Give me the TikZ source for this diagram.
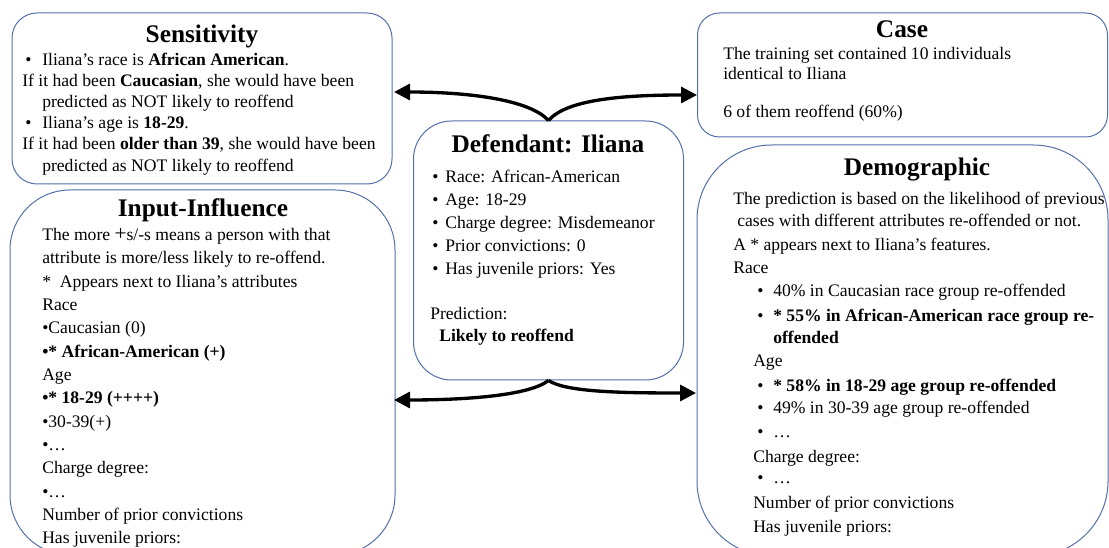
\documentclass[tikz,border=0pt]{standalone}
\usepackage{fontspec}
\setmainfont{Liberation Serif}
\usetikzlibrary{arrows.meta}
\definecolor{boxblue}{RGB}{84,112,170}
\begin{document}
\begin{tikzpicture}[x=0.75pt,y=-0.75pt,
  box/.style={draw=boxblue, line width=0.75pt, fill=white, inner sep=0pt, minimum width=#1},
  tx/.style={anchor=base west, inner sep=0pt, font=\fontsize{13.2}{15}\selectfont},
  ttl/.style={anchor=base, inner sep=0pt, font=\fontsize{19}{22}\selectfont\bfseries},
  conn/.style={draw=black, line width=2.5pt, -{Triangle[length=12pt,width=12pt]}}]
\useasboundingbox (0,0) rectangle (1109,548);
\clip (0,0) rectangle (1109,548);
% boxes
\node[box=380*0.75pt, minimum height=171*0.75pt, rounded corners=18.75pt] (sens) at (202,98.5) {};
\node[box=385*0.75pt, minimum height=365*0.75pt, rounded corners=45pt] (inpt) at (202.5,372.5) {};
\node[box=270*0.75pt, minimum height=259*0.75pt, rounded corners=28.5pt] (def) at (548.5,250.5) {};
\node[box=410*0.75pt, minimum height=124*0.75pt, rounded corners=16.5pt] (case) at (902.5,75) {};
\node[box=411*0.75pt, minimum height=411*0.75pt, rounded corners=56pt] (demo) at (902.5,350.5) {};
% Sensitivity
\node[ttl] (sensT) at (202,43) {Sensitivity};
\node[tx] (sb1) at (25,66) {•};
\node[tx] (s1) at (42,66) {Iliana’s race is \textbf{African American}.};
\node[tx] (s2) at (22,87) {If it had been \textbf{Caucasian}, she would have been};
\node[tx] (s3) at (42,108) {predicted as NOT likely to reoffend};
\node[tx] (sb4) at (25,129) {•};
\node[tx] (s4) at (42,129) {Iliana’s age is \textbf{18-29}.};
\node[tx] (s5) at (22,150) {If it had been \textbf{older than 39}, she would have been};
\node[tx] (s6) at (42,172) {predicted as NOT likely to reoffend};
% Input-Influence
\node[ttl] (inT) at (203,217) {Input-Influence};
\node[tx] (i1) at (42,240.7) {The more {\fontsize{16}{15}\selectfont +}s/-s means a person with that};
\node[tx] (i2) at (42,264.0) {attribute is more/less likely to re-offend.};
\node[tx] (i3) at (42,287.3) {*\ \ Appears next to Iliana’s attributes};
\node[tx] (i4) at (42,310.6) {Race};
\node[tx] (i5) at (42,333.9) {•Caucasian (0)};
\node[tx] (i6) at (42,357.2) {\textbf{•* African-American (+)}};
\node[tx] (i7) at (42,380.5) {Age};
\node[tx] (i8) at (42,403.8) {\textbf{•* 18-29 (++++)}};
\node[tx] (i9) at (42,427.1) {•30-39(+)};
\node[tx] (i10) at (42,450.4) {•…};
\node[tx] (i11) at (42,473.7) {Charge degree:};
\node[tx] (i12) at (42,497.0) {•…};
\node[tx] (i13) at (42,520.3) {Number of prior convictions};
\node[tx] (i14) at (42,543.6) {Has juvenile priors:};
% Defendant
\node[ttl] (defT) at (548,153) {Defendant: Iliana};
\node[tx] (db1) at (432,183) {•};
\node[tx] (d1) at (445,183) {Race: African-American};
\node[tx] (db2) at (432,206) {•};
\node[tx] (d2) at (445,206) {Age: 18-29};
\node[tx] (db3) at (432,229) {•};
\node[tx] (d3) at (445,229) {Charge degree: Misdemeanor};
\node[tx] (db4) at (432,252) {•};
\node[tx] (d4) at (445,252) {Prior convictions: 0};
\node[tx] (db5) at (432,275) {•};
\node[tx] (d5) at (445,275) {Has juvenile priors: Yes};
\node[tx] (d6) at (430,320) {Prediction:};
\node[tx] (d7) at (439,342) {\textbf{Likely to reoffend}};
% Case
\node[ttl] (caseT) at (902,38) {Case};
\node[tx] (c1) at (723,60) {The training set contained 10 individuals};
\node[tx] (c2) at (723,80) {identical to Iliana};
\node[tx] (c3) at (723,118) {6 of them reoffend (60\%)};
% Demographic
\node[ttl] (demT) at (917,176) {Demographic};
\node[tx] (m1) at (733,205) {The prediction is based on the likelihood of previous};
\node[tx] (m2) at (737,227) {cases with different attributes re-offended or not.};
\node[tx] (m3) at (733,251) {A * appears next to Iliana’s features.};
\node[tx] (m4) at (733,274) {Race};
\node[tx] (mb5) at (757,297) {•};
\node[tx] (m5) at (773,297) {40\% in Caucasian race group re-offended};
\node[tx] (mb6) at (757,322) {•};
\node[tx] (m6) at (773,322) {\textbf{* 55\% in African-American race group re-}};
\node[tx] (m7) at (773,344) {\textbf{offended}};
\node[tx] (m8) at (753,367) {Age};
\node[tx] (mb9) at (757,392) {•};
\node[tx] (m9) at (773,392) {\textbf{* 58\% in 18-29 age group re-offended}};
\node[tx] (mb10) at (757,414) {•};
\node[tx] (m10) at (773,414) {49\% in 30-39 age group re-offended};
\node[tx] (mb11) at (757,437) {•};
\node[tx] (m11) at (773,437) {…};
\node[tx] (m12) at (753,462) {Charge degree:};
\node[tx] (mb13) at (757,483) {•};
\node[tx] (m13) at (773,483) {…};
\node[tx] (m14) at (753,508) {Number of prior convictions};
\node[tx] (m15) at (753,532) {Has juvenile priors:};
% connectors
\coordinate (sensTip) at (394,92);
\coordinate (caseTip) at (697,95);
\coordinate (inTip) at (394,400);
\coordinate (demTip) at (696,393);
\draw[conn] (def.north) .. controls (530,100) and (470,92) .. (sensTip);
\draw[conn] (def.north) .. controls (566,100) and (620,95) .. (caseTip);
\draw[conn] (def.south) .. controls (530,395) and (470,400) .. (inTip);
\draw[conn] (def.south) .. controls (566,392) and (620,393) .. (demTip);
\end{tikzpicture}
\end{document}
